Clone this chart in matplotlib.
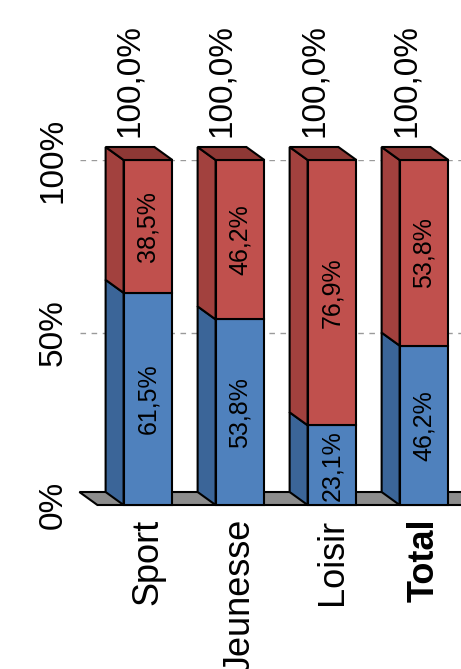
import matplotlib
matplotlib.use('Agg')
import matplotlib.pyplot as plt
from matplotlib.patches import Polygon, Rectangle
from matplotlib import font_manager

# data
categories = ['Sport', 'Jeunesse', 'Loisir', 'Total']
share_blue = [61.5, 53.8, 23.1, 46.2]
share_red = [38.5, 46.2, 76.9, 53.8]
totals = ['100,0%', '100,0%', '100,0%', '100,0%']

blue_front, blue_side = '#4F81BD', '#3B6598'
red_front, red_side, red_top = '#C0504D', '#A2413E', '#8E3835'

# the reference text is tall and narrow: use a narrow face if there is one
installed = {f.name for f in font_manager.fontManager.ttflist}
if 'Liberation Sans Narrow' in installed:
    font, k = 'Liberation Sans Narrow', 1.18
else:
    font, k = 'Liberation Sans', 1.0

W, H = 461, 669
fig = plt.figure(figsize=(W / 100, H / 100), dpi=100)
# axes spans front-face coordinates: y 0% at px 505, 100% at px 160
ax = fig.add_axes([80 / W, (H - 505) / H, 1 - 80 / W, 345 / H])
ax.set_xlim(-0.739, 3.402)
ax.set_ylim(0, 100)

bar_w = 0.53
dx = -18 / 92          # depth offset in data units
dy = 13 / 3.45

# floor
floor = Polygon([(-0.55, 0), (3.6, 0), (3.6 + dx, dy), (-0.55 + dx, dy)],
                closed=True, fc='#8C8C8C', ec='black', lw=1.5, clip_on=False, zorder=1)
ax.add_patch(floor)

for y in [50, 100]:
    ax.axhline(y, color='#9A9A9A', lw=1, ls=(0, (4, 4)), zorder=0.5)


def draw_segment(i, y0, y1, front, side, top=None):
    x0 = i - bar_w / 2
    ax.add_patch(Polygon([(x0, y0), (x0, y1), (x0 + dx, y1 + dy), (x0 + dx, y0 + dy)],
                         closed=True, fc=side, ec='black', lw=1.5, clip_on=False, zorder=2))
    ax.add_patch(Rectangle((x0, y0), bar_w, y1 - y0, fc=front, ec='black', lw=1.5,
                           clip_on=False, zorder=3))
    if top is not None:
        ax.add_patch(Polygon([(x0, y1), (x0 + bar_w, y1), (x0 + bar_w + dx, y1 + dy), (x0 + dx, y1 + dy)],
                             closed=True, fc=top, ec='black', lw=1.5, clip_on=False, zorder=3))


for i in range(len(categories)):
    b = share_blue[i]
    r = share_red[i]
    draw_segment(i, 0, b, blue_front, blue_side)
    draw_segment(i, b, b + r, red_front, red_side, red_top)
    ax.text(i, b / 2, ('%.1f%%' % b).replace('.', ','), rotation=90, ha='center', va='center',
            fontsize=18 * k, family=font, zorder=5)
    ax.text(i, b + r / 2, ('%.1f%%' % r).replace('.', ','), rotation=90, ha='center', va='center',
            fontsize=18 * k, family=font, zorder=5)
    ax.text(i + dx, b + r + dy + 3, totals[i], rotation=90, ha='center', va='bottom',
            fontsize=24 * k, family=font, clip_on=False)

ax.set_yticks([0, 50, 100])
ax.set_yticklabels(['0%', '50%', '100%'], rotation=90, va='center', fontsize=24 * k, family=font)
ax.set_xticks(range(len(categories)))
ax.set_xticklabels(categories, rotation=90, ha='center', va='top', fontsize=26 * k, family=font)
ax.get_xticklabels()[-1].set_fontweight('bold')
ax.tick_params(length=0)
ax.tick_params(axis='y', pad=8)
ax.tick_params(axis='x', pad=10)
for s in ax.spines.values():
    s.set_visible(False)
ax.set_facecolor('none')

fig.savefig('out.png', dpi=100)
